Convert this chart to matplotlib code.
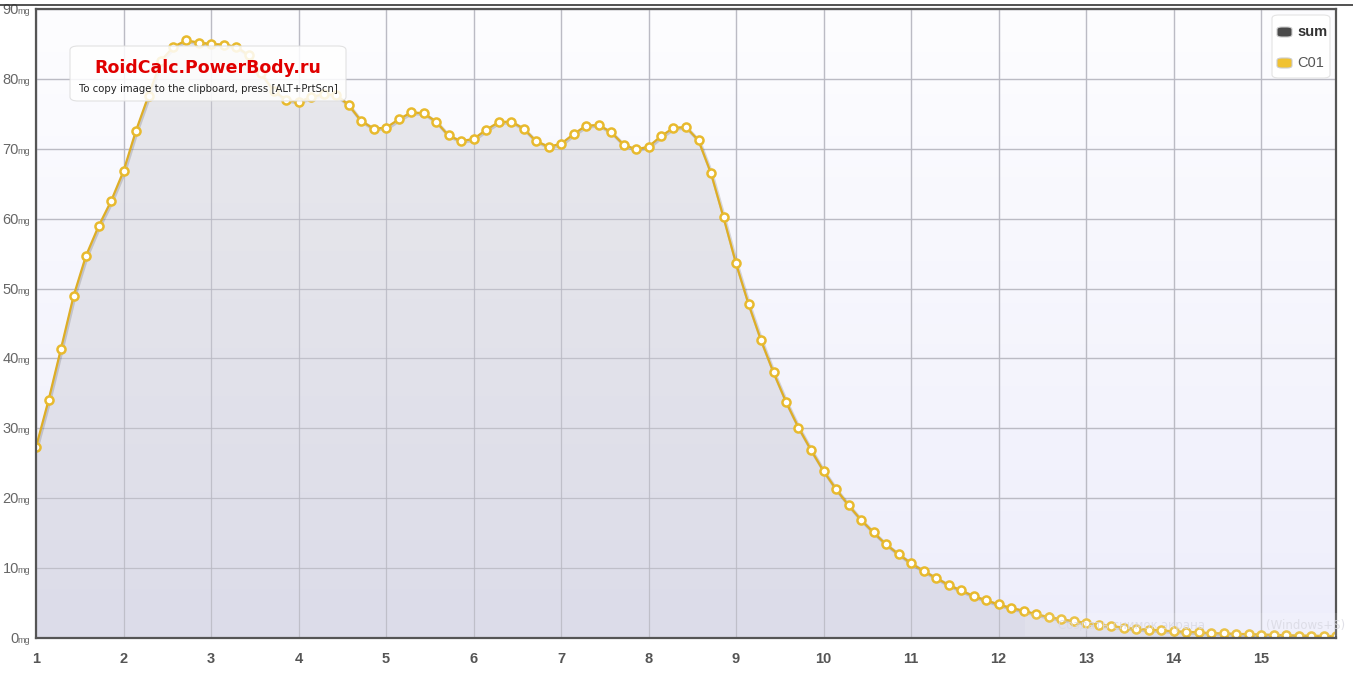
import numpy as np
import matplotlib
matplotlib.use("Agg")
import matplotlib.pyplot as plt
from matplotlib.patches import FancyBboxPatch, Polygon
from matplotlib.lines import Line2D
from matplotlib.colors import LinearSegmentedColormap
import matplotlib.transforms as mtransforms

# ---- data ----
c01_values = [
    27.3, 34.0, 41.4, 48.9, 54.7, 58.9, 62.5, 66.8, 72.6, 77.6,
    82.6, 84.6, 85.5, 85.2, 85.0, 84.9, 84.6, 83.4, 80.8, 78.3,
    77.0, 76.7, 77.4, 77.8, 77.7, 76.3, 74.0, 72.9, 73.0, 74.2,
    75.2, 75.1, 73.9, 71.9, 71.1, 71.4, 72.7, 73.8, 73.9, 72.9,
    71.1, 70.3, 70.7, 72.1, 73.3, 73.4, 72.4, 70.6, 69.9, 70.3,
    71.8, 73.0, 73.1, 71.2, 66.5, 60.2, 53.6, 47.8, 42.6, 38.0,
    33.8, 30.1, 26.9, 23.9, 21.3, 19.0, 16.9, 15.1, 13.4, 12.0,
    10.7, 9.6, 8.6, 7.6, 6.8, 6.0, 5.4, 4.8, 4.3, 3.9,
    3.4, 3.0, 2.7, 2.4, 2.2, 1.9, 1.7, 1.5, 1.3, 1.2,
    1.1, 0.95, 0.9, 0.8, 0.7, 0.65, 0.6, 0.55, 0.5, 0.45,
    0.4, 0.35, 0.33, 0.3, 0.28,
]
sum_values = list(c01_values)  # only one compound -> sum equals C01
week_ticks = list(range(1, 16))
y_ticks = [0, 10, 20, 30, 40, 50, 60, 70, 80, 90]
y_unit = "mg"
legend_labels = ["sum", "C01"]
title_text = "RoidCalc.PowerBody.ru"
sub_text = "To copy image to the clipboard, press [ALT+PrtScn]"

days = np.arange(len(c01_values))
x = 1 + days / 7.0
y = np.array(c01_values)
ysum = np.array(sum_values)

W, H = 1353, 680
fig = plt.figure(figsize=(W / 100, H / 100), dpi=100)
fig.patch.set_facecolor("white")
plt.rcParams["font.family"] = ["Liberation Sans", "DejaVu Sans"]

L, R, T, B = 36, 1336, 9, 638
ax = fig.add_axes([L / W, 1 - B / H, (R - L) / W, (B - T) / H])
ax.set_xlim(x[0], x[-1])
ax.set_ylim(0, 90)

# background gradient
bg = LinearSegmentedColormap.from_list("bg", ["#eeeefb", "#fdfdff"])
grad = np.linspace(0, 1, 256).reshape(-1, 1)
ax.imshow(grad, cmap=bg, extent=[x[0], x[-1], 0, 90], origin="lower",
          aspect="auto", zorder=0)

# grid
for xt in week_ticks:
    ax.axvline(xt, color="#c8c8d0", lw=0.9, zorder=1)
for yt in y_ticks:
    ax.axhline(yt, color="#c8c8d0", lw=0.9, zorder=1)

# gradient fill under sum series
fillcm = LinearSegmentedColormap.from_list("fill", ["#dcdce9", "#e9e9ec"])
im = ax.imshow(grad, cmap=fillcm, extent=[x[0], x[-1], 0, 90], origin="lower",
               aspect="auto", zorder=2)
poly_pts = np.vstack([np.column_stack([x, ysum]), [[x[-1], 0], [x[0], 0]]])
poly = Polygon(poly_pts, closed=True, transform=ax.transData, facecolor="none",
               edgecolor="none")
ax.add_patch(poly)
im.set_clip_path(poly)
for xt in week_ticks:
    ax.axvline(xt, color="#b8b8c2", lw=0.9, zorder=2.5, alpha=0.8)
for yt in y_ticks:
    ax.axhline(yt, color="#b8b8c2", lw=0.9, zorder=2.5, alpha=0.8)

# shadow + line
shadow = mtransforms.offset_copy(ax.transData, fig=fig, x=1, y=-1, units="dots")
ax.plot(x, y, color="#000000", lw=2.6, alpha=0.14, transform=shadow, zorder=3)
ax.plot(x, y, color="#deae26", lw=1.6, zorder=4,
        marker="o", markersize=5.8, markerfacecolor="white",
        markeredgecolor="#e8ba2e", markeredgewidth=1.8)

# spines / ticks
for s in ax.spines.values():
    s.set_color("#555555")
    s.set_linewidth(1.6)
    s.set_zorder(6)
ax.set_xticks(week_ticks)
ax.set_xticklabels([str(t) for t in week_ticks], fontsize=10.5,
                   fontweight="bold", color="#555555")
ax.tick_params(axis="x", length=0, pad=10)
ax.set_yticks(y_ticks)
ax.set_yticklabels([])
ax.tick_params(axis="y", length=0)

# y labels: number + small unit
for yt in y_ticks:
    tr_mg = mtransforms.offset_copy(ax.get_yaxis_transform(), fig=fig,
                                    x=-6, y=-5, units="dots")
    tr_num = mtransforms.offset_copy(ax.get_yaxis_transform(), fig=fig,
                                     x=-17, y=-5, units="dots")
    ax.text(0, yt, y_unit, transform=tr_mg, ha="right", va="baseline",
            fontsize=6.5, color="#666666", clip_on=False)
    ax.text(0, yt, str(yt), transform=tr_num, ha="right", va="baseline",
            fontsize=10.5, color="#666666", clip_on=False)


def fx(px):
    return px / W


def fy(py):
    return 1 - py / H


# top browser line
fig.add_artist(Line2D([0, 1], [fy(5), fy(5)], transform=fig.transFigure,
                      color="#333333", lw=1.2))

# tooltip / watermark box
tip = FancyBboxPatch((fx(70), fy(101)), fx(346) - fx(70), fy(46) - fy(101),
                     boxstyle="round,pad=0,rounding_size=0.006",
                     transform=fig.transFigure, facecolor="white", alpha=0.85,
                     edgecolor="#dddddd", lw=0.8, zorder=10)
fig.add_artist(tip)
fig.text(fx(208), fy(68), title_text, ha="center", va="center", fontsize=12.5,
         fontweight="bold", color="#e00000", zorder=11,
         family=["DejaVu Sans"])
fig.text(fx(208), fy(89), sub_text, ha="center", va="center", fontsize=7.3,
         color="#222222", zorder=11, family=["DejaVu Sans"])

# legend
lg = FancyBboxPatch((fx(1272), fy(78)), fx(1330) - fx(1272), fy(15) - fy(78),
                    boxstyle="round,pad=0,rounding_size=0.005",
                    transform=fig.transFigure, facecolor="white",
                    edgecolor="#e4e4e4", lw=0.8, zorder=10)
fig.add_artist(lg)
leg_colors = ["#4a4a4a", "#f0c232"]
leg_weights = ["bold", "normal"]
leg_tcolors = ["#333333", "#555555"]
for k, (lab, col) in enumerate(zip(legend_labels, leg_colors)):
    cy = 32 + k * 31
    pill = FancyBboxPatch((fx(1277), fy(cy + 5)), fx(1292) - fx(1277), fy(cy - 5) - fy(cy + 5),
                          boxstyle="round,pad=0,rounding_size=0.0035",
                          transform=fig.transFigure, facecolor=col,
                          edgecolor="#cccccc", lw=0.8, zorder=11)
    fig.add_artist(pill)
    fig.text(fx(1297), fy(cy), lab, ha="left", va="center", fontsize=10.5,
             fontweight=leg_weights[k], color=leg_tcolors[k], zorder=11)

# faint OS overlay
ov = FancyBboxPatch((fx(1025), fy(636)), fx(1353) - fx(1025), fy(613) - fy(636),
                    boxstyle="square,pad=0", transform=fig.transFigure,
                    facecolor="white", alpha=0.12, edgecolor="none", zorder=9)
fig.add_artist(ov)
fig.text(fx(1058), fy(626), "Создать снимок экрана", ha="left", va="center",
         fontsize=8.5, color="#d4d4de", alpha=0.8, zorder=3,
         family=["DejaVu Sans"])
fig.text(fx(1345), fy(626), "(Windows+S)", ha="right", va="center",
         fontsize=8.5, color="#d4d4de", alpha=0.8, zorder=3,
         family=["DejaVu Sans"])

fig.savefig("out.png", dpi=100)
